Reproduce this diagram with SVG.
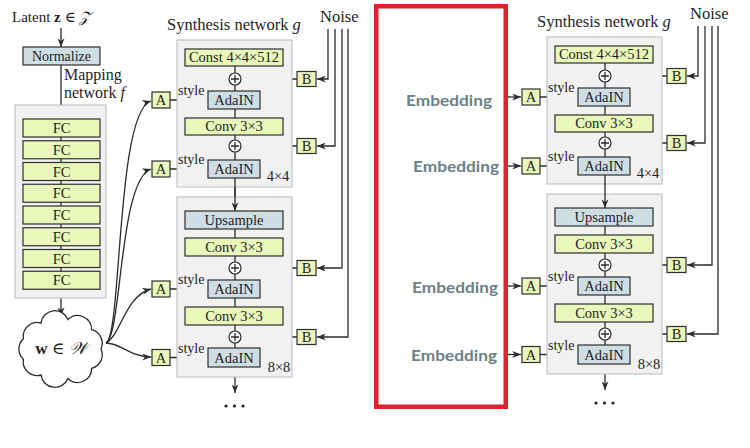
<svg xmlns="http://www.w3.org/2000/svg" width="750" height="448" viewBox="0 0 750 448">
<defs>
<marker id="arr" viewBox="0 0 10 8" refX="10" refY="4" markerWidth="9" markerHeight="7" markerUnits="userSpaceOnUse" orient="auto"><path d="M0,0 L10,4 L0,8 L3,4 z" fill="#2b2b2b"/></marker>
<style>
text{font-family:"Liberation Serif","DejaVu Serif",serif;fill:#1e1e1e}
.t{font-size:14.5px;text-anchor:middle}
.lbl{font-size:16px}
.sty{font-size:14px}
.panel{fill:#f1f1f1;stroke:#b4bcc0;stroke-width:1}
.g{fill:#e9f7bb;stroke:#2e2e2e;stroke-width:1.2}
.b{fill:#cfdde5;stroke:#2e2e2e;stroke-width:1.2}
.pl{fill:#fff;stroke:#2b2b2b;stroke-width:1.2}
.ln{fill:none;stroke:#2b2b2b;stroke-width:1.3}
.la{fill:none;stroke:#2b2b2b;stroke-width:1.3;marker-end:url(#arr)}
.emb{font-family:Lato,"Open Sans",sans-serif;font-weight:700;font-size:16px;fill:#6b8186}
</style>
</defs>
<rect width="750" height="448" fill="#fff"/>

<!-- connectors (left) -->
<g id="connectors">
<path class="la" d="M61,28 V47"/>
<path class="la" d="M61,65 V119"/>
<path class="ln" d="M61,137 V271"/>
<path class="la" d="M61,289 V316"/>
<path class="la" d="M106,343 C122,335 116,112 151,101"/>
<path class="la" d="M106,343 C122,335 119,180 151,169"/>
<path class="la" d="M106,343 C121,335 125,296 151,289"/>
<path class="la" d="M106,343 C121,343 130,357 151,357"/>
<path class="la" d="M170,100 H207"/>
<path class="la" d="M170,169 H207"/>
<path class="la" d="M170,289 H207"/>
<path class="la" d="M170,357.5 H207"/>
<path class="la" d="M235,66 V211"/>
<path class="ln" d="M235,229 V348"/>
<path class="la" d="M235,367 V393"/>
<path class="la" d="M297,79 H242"/>
<path class="la" d="M297,146 H242"/>
<path class="la" d="M297,268 H242"/>
<path class="la" d="M297,337 H242"/>
<path class="la" d="M328,29 V79 H317"/>
<path class="la" d="M335,29 V146 H317"/>
<path class="la" d="M342,29 V268 H317"/>
<path class="la" d="M348,29 V337 H317"/>
<path class="la" d="M508,97 H521"/>
<path class="la" d="M508,166 H521"/>
<path class="la" d="M508,286 H521"/>
<path class="la" d="M508,354.5 H521"/>
</g>

<!-- mapping network -->
<g id="latent"><text class="lbl" x="12" y="22" style="font-size:15px">Latent <tspan font-weight="bold">z</tspan> ∈ <tspan font-style="italic">𝒵</tspan></text></g>
<g id="normalize"><rect class="b" x="23" y="47" width="77" height="18"/><text class="t" x="61.5" y="61" style="font-size:14px">Normalize</text></g>
<g id="mapping-label"><text class="lbl" x="64" y="80">Mapping</text><text class="lbl" x="64" y="98">network <tspan font-style="italic">f</tspan></text></g>
<g id="mapping-network">
<rect class="panel" x="15" y="105" width="91" height="193"/>
<path class="ln" d="M61,137 V272"/>
<g id="fc1"><rect class="g" x="23" y="119" width="77" height="18"/><text class="t" x="61.5" y="133">FC</text></g>
<g id="fc2"><rect class="g" x="23" y="140.75" width="77" height="18"/><text class="t" x="61.5" y="154.75">FC</text></g>
<g id="fc3"><rect class="g" x="23" y="162.5" width="77" height="18"/><text class="t" x="61.5" y="176.5">FC</text></g>
<g id="fc4"><rect class="g" x="23" y="184.25" width="77" height="18"/><text class="t" x="61.5" y="198.25">FC</text></g>
<g id="fc5"><rect class="g" x="23" y="206" width="77" height="18"/><text class="t" x="61.5" y="220">FC</text></g>
<g id="fc6"><rect class="g" x="23" y="227.75" width="77" height="18"/><text class="t" x="61.5" y="241.75">FC</text></g>
<g id="fc7"><rect class="g" x="23" y="249.5" width="77" height="18"/><text class="t" x="61.5" y="263.5">FC</text></g>
<g id="fc8"><rect class="g" x="23" y="271.25" width="77" height="18"/><text class="t" x="61.5" y="285.25">FC</text></g>
</g>
<g id="w-cloud">
<path fill="#fff" stroke="#2b2b2b" stroke-width="1.3" d="M101,349 A14,14 0 0 1 91.6,368.3 A14,14 0 0 1 67.9,378.5 A14,14 0 0 1 41,375 A14,14 0 0 1 23.4,359.3 A14,14 0 0 1 23.4,338.7 A14,14 0 0 1 41,323 A14,14 0 0 1 67.9,319.5 A14,14 0 0 1 91.6,329.7 A14,14 0 0 1 101,349 Z"/>
<text class="t" x="61" y="354" style="font-size:17px"><tspan font-weight="bold">w</tspan> ∈ <tspan font-style="italic">𝒲</tspan></text>
</g>

<!-- left synthesis network -->
<g id="L-synthesis">
<text class="lbl" x="167" y="30" style="font-size:16.5px">Synthesis network <tspan font-style="italic">g</tspan></text>
<text class="lbl" x="320" y="22" style="font-size:16.5px">Noise</text>
<rect class="panel" x="177" y="40" width="115" height="147"/>
<rect class="panel" x="177" y="197" width="115" height="180"/>
<path class="la" d="M235,66 V211"/>
<path class="ln" d="M235,229 V348"/>
<g id="L-const"><rect class="g" x="185" y="49" width="98" height="17"/><text class="t" x="234" y="62">Const 4×4×512</text></g>
<g id="L-plus1"><circle class="pl" cx="235" cy="79" r="6"/><path class="ln" d="M231,79 H239 M235,75 V83"/></g>
<g id="L-adain1"><rect class="b" x="208" y="91" width="52" height="18"/><text class="t" x="234" y="105">AdaIN</text></g>
<g id="L-conv1"><rect class="g" x="185" y="118" width="98" height="17"/><text class="t" x="234" y="131">Conv 3×3</text></g>
<g id="L-plus2"><circle class="pl" cx="235" cy="146" r="6"/><path class="ln" d="M231,146 H239 M235,142 V150"/></g>
<g id="L-adain2"><rect class="b" x="208" y="160" width="52" height="18"/><text class="t" x="234" y="174">AdaIN</text></g>
<text class="t" x="278" y="181">4×4</text>
<g id="L-upsample"><rect class="b" x="185" y="211" width="98" height="18"/><text class="t" x="234" y="225">Upsample</text></g>
<g id="L-conv2"><rect class="g" x="185" y="238" width="98" height="18"/><text class="t" x="234" y="252">Conv 3×3</text></g>
<g id="L-plus3"><circle class="pl" cx="235" cy="268" r="6"/><path class="ln" d="M231,268 H239 M235,264 V272"/></g>
<g id="L-adain3"><rect class="b" x="208" y="280" width="52" height="18"/><text class="t" x="234" y="294">AdaIN</text></g>
<g id="L-conv3"><rect class="g" x="185" y="307" width="98" height="18"/><text class="t" x="234" y="321">Conv 3×3</text></g>
<g id="L-plus4"><circle class="pl" cx="235" cy="337" r="6"/><path class="ln" d="M231,337 H239 M235,333 V341"/></g>
<g id="L-adain4"><rect class="b" x="208" y="348" width="52" height="19"/><text class="t" x="234" y="362.5">AdaIN</text></g>
<text class="t" x="279" y="372">8×8</text>
<g id="L-dots"><circle cx="226" cy="406" r="1.6" fill="#222"/><circle cx="234.5" cy="406" r="1.6" fill="#222"/><circle cx="243" cy="406" r="1.6" fill="#222"/></g>
<g id="L-A1"><rect class="g" x="152" y="92" width="18" height="16"/><text class="t" x="161" y="105">A</text><text class="sty" x="178" y="95">style</text></g>
<g id="L-A2"><rect class="g" x="152" y="161" width="18" height="16"/><text class="t" x="161" y="174">A</text><text class="sty" x="178" y="164">style</text></g>
<g id="L-A3"><rect class="g" x="152" y="281" width="18" height="16"/><text class="t" x="161" y="294">A</text><text class="sty" x="178" y="284">style</text></g>
<g id="L-A4"><rect class="g" x="152" y="349.5" width="18" height="16"/><text class="t" x="161" y="362.5">A</text><text class="sty" x="178" y="352.5">style</text></g>
<g id="L-B1"><rect class="g" x="297" y="71.5" width="19" height="15"/><text class="t" x="306.5" y="84">B</text></g>
<g id="L-B2"><rect class="g" x="297" y="138.5" width="19" height="15"/><text class="t" x="306.5" y="151">B</text></g>
<g id="L-B3"><rect class="g" x="297" y="260.5" width="19" height="15"/><text class="t" x="306.5" y="273">B</text></g>
<g id="L-B4"><rect class="g" x="297" y="329.5" width="19" height="15"/><text class="t" x="306.5" y="342">B</text></g>
</g>

<!-- red embedding box -->
<g id="embedding-box">
<rect x="376.25" y="6.25" width="129.5" height="400.5" fill="none" stroke="#dc2430" stroke-width="4.5"/>
<text class="emb" x="406" y="106" textLength="86" lengthAdjust="spacingAndGlyphs">Embedding</text>
<text class="emb" x="413" y="172" textLength="86" lengthAdjust="spacingAndGlyphs">Embedding</text>
<text class="emb" x="412" y="293" textLength="86" lengthAdjust="spacingAndGlyphs">Embedding</text>
<text class="emb" x="411" y="361" textLength="86" lengthAdjust="spacingAndGlyphs">Embedding</text>
</g>

<!-- right synthesis network -->
<g id="R-synthesis" transform="translate(370,-3)">
<g id="R-connectors">
<path class="la" d="M170,100 H207"/>
<path class="la" d="M170,169 H207"/>
<path class="la" d="M170,289 H207"/>
<path class="la" d="M170,357.5 H207"/>
<path class="la" d="M235,367 V393"/>
<path class="la" d="M297,79 H242"/>
<path class="la" d="M297,146 H242"/>
<path class="la" d="M297,268 H242"/>
<path class="la" d="M297,337 H242"/>
<path class="la" d="M328,29 V79 H317"/>
<path class="la" d="M335,29 V146 H317"/>
<path class="la" d="M342,29 V268 H317"/>
<path class="la" d="M348,29 V337 H317"/>
</g>
<text class="lbl" x="167" y="30" style="font-size:16.5px">Synthesis network <tspan font-style="italic">g</tspan></text>
<text class="lbl" x="320" y="22" style="font-size:16.5px">Noise</text>
<rect class="panel" x="177" y="40" width="115" height="147"/>
<rect class="panel" x="177" y="197" width="115" height="180"/>
<path class="la" d="M235,66 V211"/>
<path class="ln" d="M235,229 V348"/>
<g id="R-const"><rect class="g" x="185" y="49" width="98" height="17"/><text class="t" x="234" y="62">Const 4×4×512</text></g>
<g id="R-plus1"><circle class="pl" cx="235" cy="79" r="6"/><path class="ln" d="M231,79 H239 M235,75 V83"/></g>
<g id="R-adain1"><rect class="b" x="208" y="91" width="52" height="18"/><text class="t" x="234" y="105">AdaIN</text></g>
<g id="R-conv1"><rect class="g" x="185" y="118" width="98" height="17"/><text class="t" x="234" y="131">Conv 3×3</text></g>
<g id="R-plus2"><circle class="pl" cx="235" cy="146" r="6"/><path class="ln" d="M231,146 H239 M235,142 V150"/></g>
<g id="R-adain2"><rect class="b" x="208" y="160" width="52" height="18"/><text class="t" x="234" y="174">AdaIN</text></g>
<text class="t" x="278" y="181">4×4</text>
<g id="R-upsample"><rect class="b" x="185" y="211" width="98" height="18"/><text class="t" x="234" y="225">Upsample</text></g>
<g id="R-conv2"><rect class="g" x="185" y="238" width="98" height="18"/><text class="t" x="234" y="252">Conv 3×3</text></g>
<g id="R-plus3"><circle class="pl" cx="235" cy="268" r="6"/><path class="ln" d="M231,268 H239 M235,264 V272"/></g>
<g id="R-adain3"><rect class="b" x="208" y="280" width="52" height="18"/><text class="t" x="234" y="294">AdaIN</text></g>
<g id="R-conv3"><rect class="g" x="185" y="307" width="98" height="18"/><text class="t" x="234" y="321">Conv 3×3</text></g>
<g id="R-plus4"><circle class="pl" cx="235" cy="337" r="6"/><path class="ln" d="M231,337 H239 M235,333 V341"/></g>
<g id="R-adain4"><rect class="b" x="208" y="348" width="52" height="19"/><text class="t" x="234" y="362.5">AdaIN</text></g>
<text class="t" x="279" y="372">8×8</text>
<g id="R-dots"><circle cx="226" cy="406" r="1.6" fill="#222"/><circle cx="234.5" cy="406" r="1.6" fill="#222"/><circle cx="243" cy="406" r="1.6" fill="#222"/></g>
<g id="R-A1"><rect class="g" x="152" y="92" width="18" height="16"/><text class="t" x="161" y="105">A</text><text class="sty" x="178" y="95">style</text></g>
<g id="R-A2"><rect class="g" x="152" y="161" width="18" height="16"/><text class="t" x="161" y="174">A</text><text class="sty" x="178" y="164">style</text></g>
<g id="R-A3"><rect class="g" x="152" y="281" width="18" height="16"/><text class="t" x="161" y="294">A</text><text class="sty" x="178" y="284">style</text></g>
<g id="R-A4"><rect class="g" x="152" y="349.5" width="18" height="16"/><text class="t" x="161" y="362.5">A</text><text class="sty" x="178" y="352.5">style</text></g>
<g id="R-B1"><rect class="g" x="297" y="71.5" width="19" height="15"/><text class="t" x="306.5" y="84">B</text></g>
<g id="R-B2"><rect class="g" x="297" y="138.5" width="19" height="15"/><text class="t" x="306.5" y="151">B</text></g>
<g id="R-B3"><rect class="g" x="297" y="260.5" width="19" height="15"/><text class="t" x="306.5" y="273">B</text></g>
<g id="R-B4"><rect class="g" x="297" y="329.5" width="19" height="15"/><text class="t" x="306.5" y="342">B</text></g>
</g>
</svg>
